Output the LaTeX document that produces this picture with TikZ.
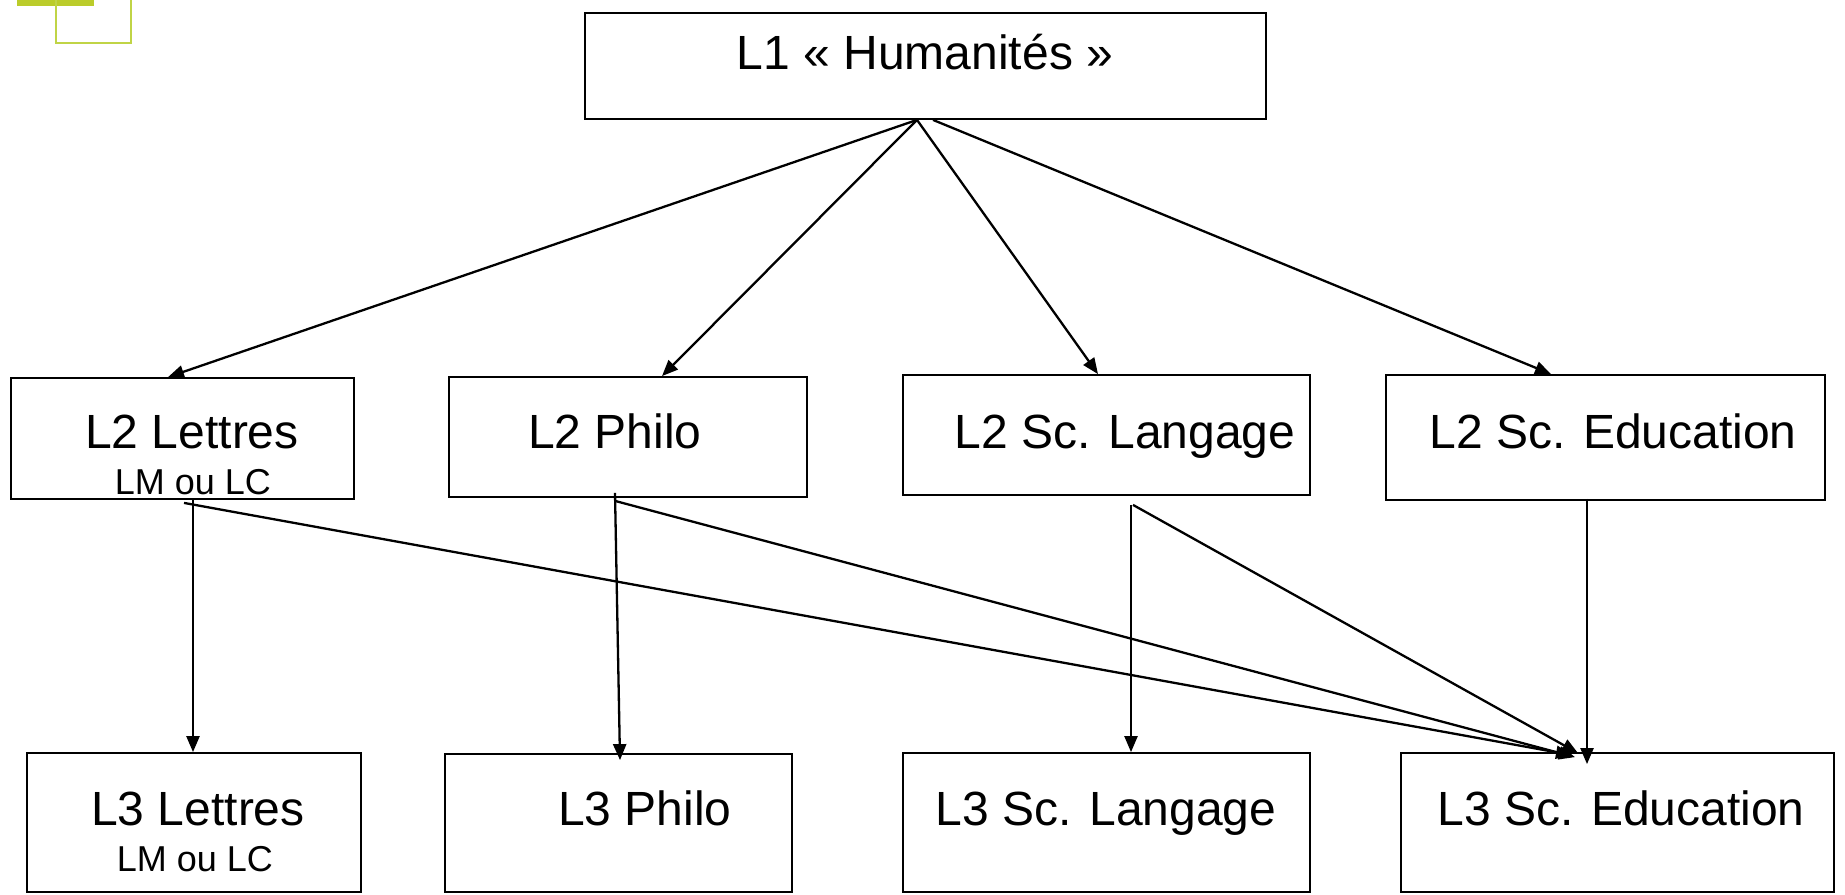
\documentclass[tikz,border=0pt]{standalone}
\usepackage{fontspec}
\setmainfont{Liberation Sans}
\usetikzlibrary{arrows.meta}
\definecolor{lime}{RGB}{187,204,42}
\definecolor{limeline}{RGB}{192,212,70}
\tikzset{
  box/.style={draw=black, line width=0.9pt, inner sep=0pt, rectangle},
  lbl/.style={anchor=base, inner sep=0pt, font=\fontsize{24}{28}\selectfont},
  sublbl/.style={anchor=base, inner sep=0pt, font=\fontsize{18}{21}\selectfont},
  arr/.style={draw=black, line width=1.15pt, -{Triangle[length=8pt,width=6.5pt]}}
}
\begin{document}
\begin{tikzpicture}[x=0.5pt,y=-0.5pt]
\useasboundingbox (0,0) rectangle (1845,894);
% decoration
\fill[lime] (17,0) rectangle (94,6);
\draw[limeline, line width=1pt] (56,0) -- (56,43) -- (131,43) -- (131,0);
% boxes
\node[box, minimum width=340.5pt, minimum height=53pt] (l1) at (925.5,66) {};
\node[box, minimum width=171.5pt, minimum height=60.5pt] (l2a) at (182.5,438.5) {};
\node[box, minimum width=179pt, minimum height=60pt] (l2b) at (628,437) {};
\node[box, minimum width=203.5pt, minimum height=60pt] (l2c) at (1106.5,435) {};
\node[box, minimum width=219.5pt, minimum height=62.5pt] (l2d) at (1605.5,437.5) {};
\node[box, minimum width=167pt, minimum height=69.5pt] (l3a) at (194,822.5) {};
\node[box, minimum width=173.5pt, minimum height=69pt] (l3b) at (618.5,823) {};
\node[box, minimum width=203.5pt, minimum height=69.5pt] (l3c) at (1106.5,822.5) {};
\node[box, minimum width=216.5pt, minimum height=69.5pt] (l3d) at (1617.5,822.5) {};
% texts
\node[lbl] (t1) at (925,69) {L1 « Humanités »};
\node[lbl] (t2a) at (192,448) {L2 Lettres};
\node[sublbl] (s2a) at (193,494) {LM ou LC};
\node[lbl] (t2b) at (615,448) {L2 Philo};
\node[lbl] (t2c) at (1125,448) {L2 Sc. Langage};
\node[lbl] (t2d) at (1613,448) {L2 Sc. Education};
\node[lbl] (t3a) at (198,825) {L3 Lettres};
\node[sublbl] (s3a) at (195,871) {LM ou LC};
\node[lbl] (t3b) at (645,825) {L3 Philo};
\node[lbl] (t3c) at (1106,825) {L3 Sc. Langage};
\node[lbl] (t3d) at (1621,825) {L3 Sc. Education};
% L1 -> L2
\draw[arr] ([xshift=-4.25pt]l1.south) -- ([xshift=-7.25pt]l2a.north);
\draw[arr] ([xshift=-4.25pt]l1.south) -- ([xshift=17pt]l2b.north);
\draw[arr] ([xshift=-4.25pt]l1.south) -- ([xshift=-4.25pt]l2c.north);
\draw[arr] ([xshift=3.75pt]l1.south) -- ([xshift=-27.25pt]l2d.north);
% L2 -> L3
\draw[arr] ([xshift=5.25pt]l2a.south) -- ([xshift=-0.5pt]l3a.north);
\draw[arr] ([xshift=0.75pt,yshift=-1.5pt]l2a.south) -- ([xshift=-22.75pt,yshift=-1.5pt]l3d.north);
\draw[arr] ([xshift=-6.5pt,yshift=2.5pt]l2b.south) -- ([xshift=0.75pt,yshift=-3.5pt]l3b.north);
\draw[arr] ([xshift=-6.5pt,yshift=-1.5pt]l2b.south) -- ([xshift=-21.25pt,yshift=-2.5pt]l3d.north);
\draw[arr] ([xshift=12.25pt,yshift=-4.5pt]l2c.south) -- ([xshift=12.25pt]l3c.north);
\draw[arr] ([xshift=13.25pt,yshift=-4.5pt]l2c.south) -- ([xshift=-19.75pt,yshift=-0.5pt]l3d.north);
\draw[arr] ([xshift=-9.25pt,yshift=1pt]l2d.south) -- ([xshift=-15.25pt,yshift=-6pt]l3d.north);
\end{tikzpicture}
\end{document}
